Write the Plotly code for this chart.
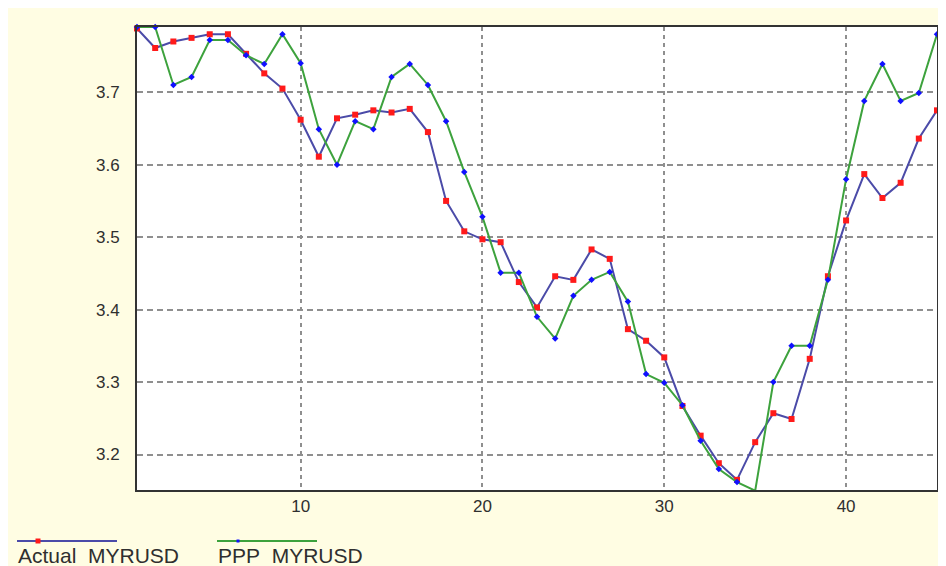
import plotly.graph_objects as go

periods = list(range(1, 46))

actual_myrusd = [3.788, 3.761, 3.770, 3.775, 3.780, 3.780, 3.753, 3.726, 3.705, 3.662,
                 3.611, 3.664, 3.669, 3.675, 3.672, 3.677, 3.645, 3.550, 3.508, 3.497,
                 3.493, 3.438, 3.403, 3.446, 3.441, 3.483, 3.470, 3.373, 3.357, 3.334,
                 3.267, 3.226, 3.188, 3.165, 3.217, 3.257, 3.249, 3.332, 3.446, 3.523,
                 3.587, 3.554, 3.575, 3.636, 3.675]

ppp_myrusd = [3.790, 3.790, 3.710, 3.721, 3.772, 3.772, 3.751, 3.739, 3.780, 3.740,
              3.649, 3.600, 3.660, 3.649, 3.721, 3.739, 3.710, 3.660, 3.590, 3.528,
              3.451, 3.451, 3.390, 3.360, 3.419, 3.441, 3.452, 3.411, 3.311, 3.299,
              3.268, 3.219, 3.180, 3.162, 3.150, 3.300, 3.350, 3.350, 3.441, 3.580,
              3.688, 3.739, 3.688, 3.699, 3.780]

x_ticks = [10, 20, 30, 40]
y_ticks = [3.2, 3.3, 3.4, 3.5, 3.6, 3.7]
series_names = ["Actual\u00a0\u00a0MYRUSD", "PPP\u00a0\u00a0MYRUSD"]

ACT_LINE = "#4B4BA8"
ACT_MARK = "#FF1A1A"
PPP_LINE = "#3DA23D"
PPP_MARK = "#1010FF"
BG = "#FFFDE3"
FONT = "Liberation Sans, Arial, sans-serif"
TXT = "#2f2f2f"

fig = go.Figure()
fig.add_trace(go.Scatter(
    x=periods, y=actual_myrusd, mode="lines+markers", name=series_names[0],
    line=dict(color=ACT_LINE, width=2),
    marker=dict(symbol="square", size=6, color=ACT_MARK),
    cliponaxis=False, showlegend=False))
fig.add_trace(go.Scatter(
    x=periods, y=ppp_myrusd, mode="lines+markers", name=series_names[1],
    line=dict(color=PPP_LINE, width=2),
    marker=dict(symbol="diamond", size=5, color=PPP_MARK),
    cliponaxis=False, showlegend=False))

# figure-pixel geometry (page is offset by the 8px body margin)
W, H = 946, 566
L, T = 129, 19
R, B = 17, 84
pw, ph = W - L - R, H - T - B


def px(x):
    return (x - L) / pw


def py(y):
    return (H - B - y) / ph


LEG_Y = 533
shapes = [
    dict(type="line", xref="paper", yref="paper", x0=px(9), x1=px(109), y0=py(LEG_Y), y1=py(LEG_Y),
         line=dict(color=ACT_LINE, width=2)),
    dict(type="rect", xref="paper", yref="paper", x0=px(27.5), x1=px(32.5),
         y0=py(LEG_Y + 2.5), y1=py(LEG_Y - 2.5), fillcolor=ACT_MARK, line_width=0),
    dict(type="line", xref="paper", yref="paper", x0=px(209), x1=px(309), y0=py(LEG_Y), y1=py(LEG_Y),
         line=dict(color=PPP_LINE, width=2)),
    dict(type="rect", xref="paper", yref="paper", x0=px(228.5), x1=px(231.5),
         y0=py(LEG_Y + 1.5), y1=py(LEG_Y - 1.5), fillcolor=PPP_MARK, line_width=0),
]

annotations = [
    dict(text=series_names[0], xref="paper", yref="paper", x=px(8), y=py(534),
         xanchor="left", yanchor="top", showarrow=False,
         font=dict(family=FONT, size=21, color=TXT)),
    dict(text=series_names[1], xref="paper", yref="paper", x=px(208), y=py(534),
         xanchor="left", yanchor="top", showarrow=False,
         font=dict(family=FONT, size=21, color=TXT)),
]

fig.update_layout(
    width=W, height=H,
    margin=dict(l=L, r=R, t=T, b=B, pad=0),
    paper_bgcolor=BG, plot_bgcolor="white",
    font=dict(family=FONT, size=17, color=TXT),
    shapes=shapes, annotations=annotations,
    xaxis=dict(range=[1, 45], tickvals=x_ticks, ticks="", showgrid=True,
               gridcolor="#8f8f8f", gridwidth=1.5, griddash="4px,4px",
               showline=True, linecolor="#333333", linewidth=2, mirror=True,
               zeroline=False, ticklabelstandoff=0),
    yaxis=dict(range=[3.151, 3.79], tickvals=y_ticks, tickformat=".1f", ticks="",
               showgrid=True, gridcolor="#8f8f8f", gridwidth=1.5, griddash="6px,4px",
               showline=True, linecolor="#333333", linewidth=2, mirror=True,
               zeroline=False, ticklabelstandoff=12),
)

fig.write_html("out.html")
